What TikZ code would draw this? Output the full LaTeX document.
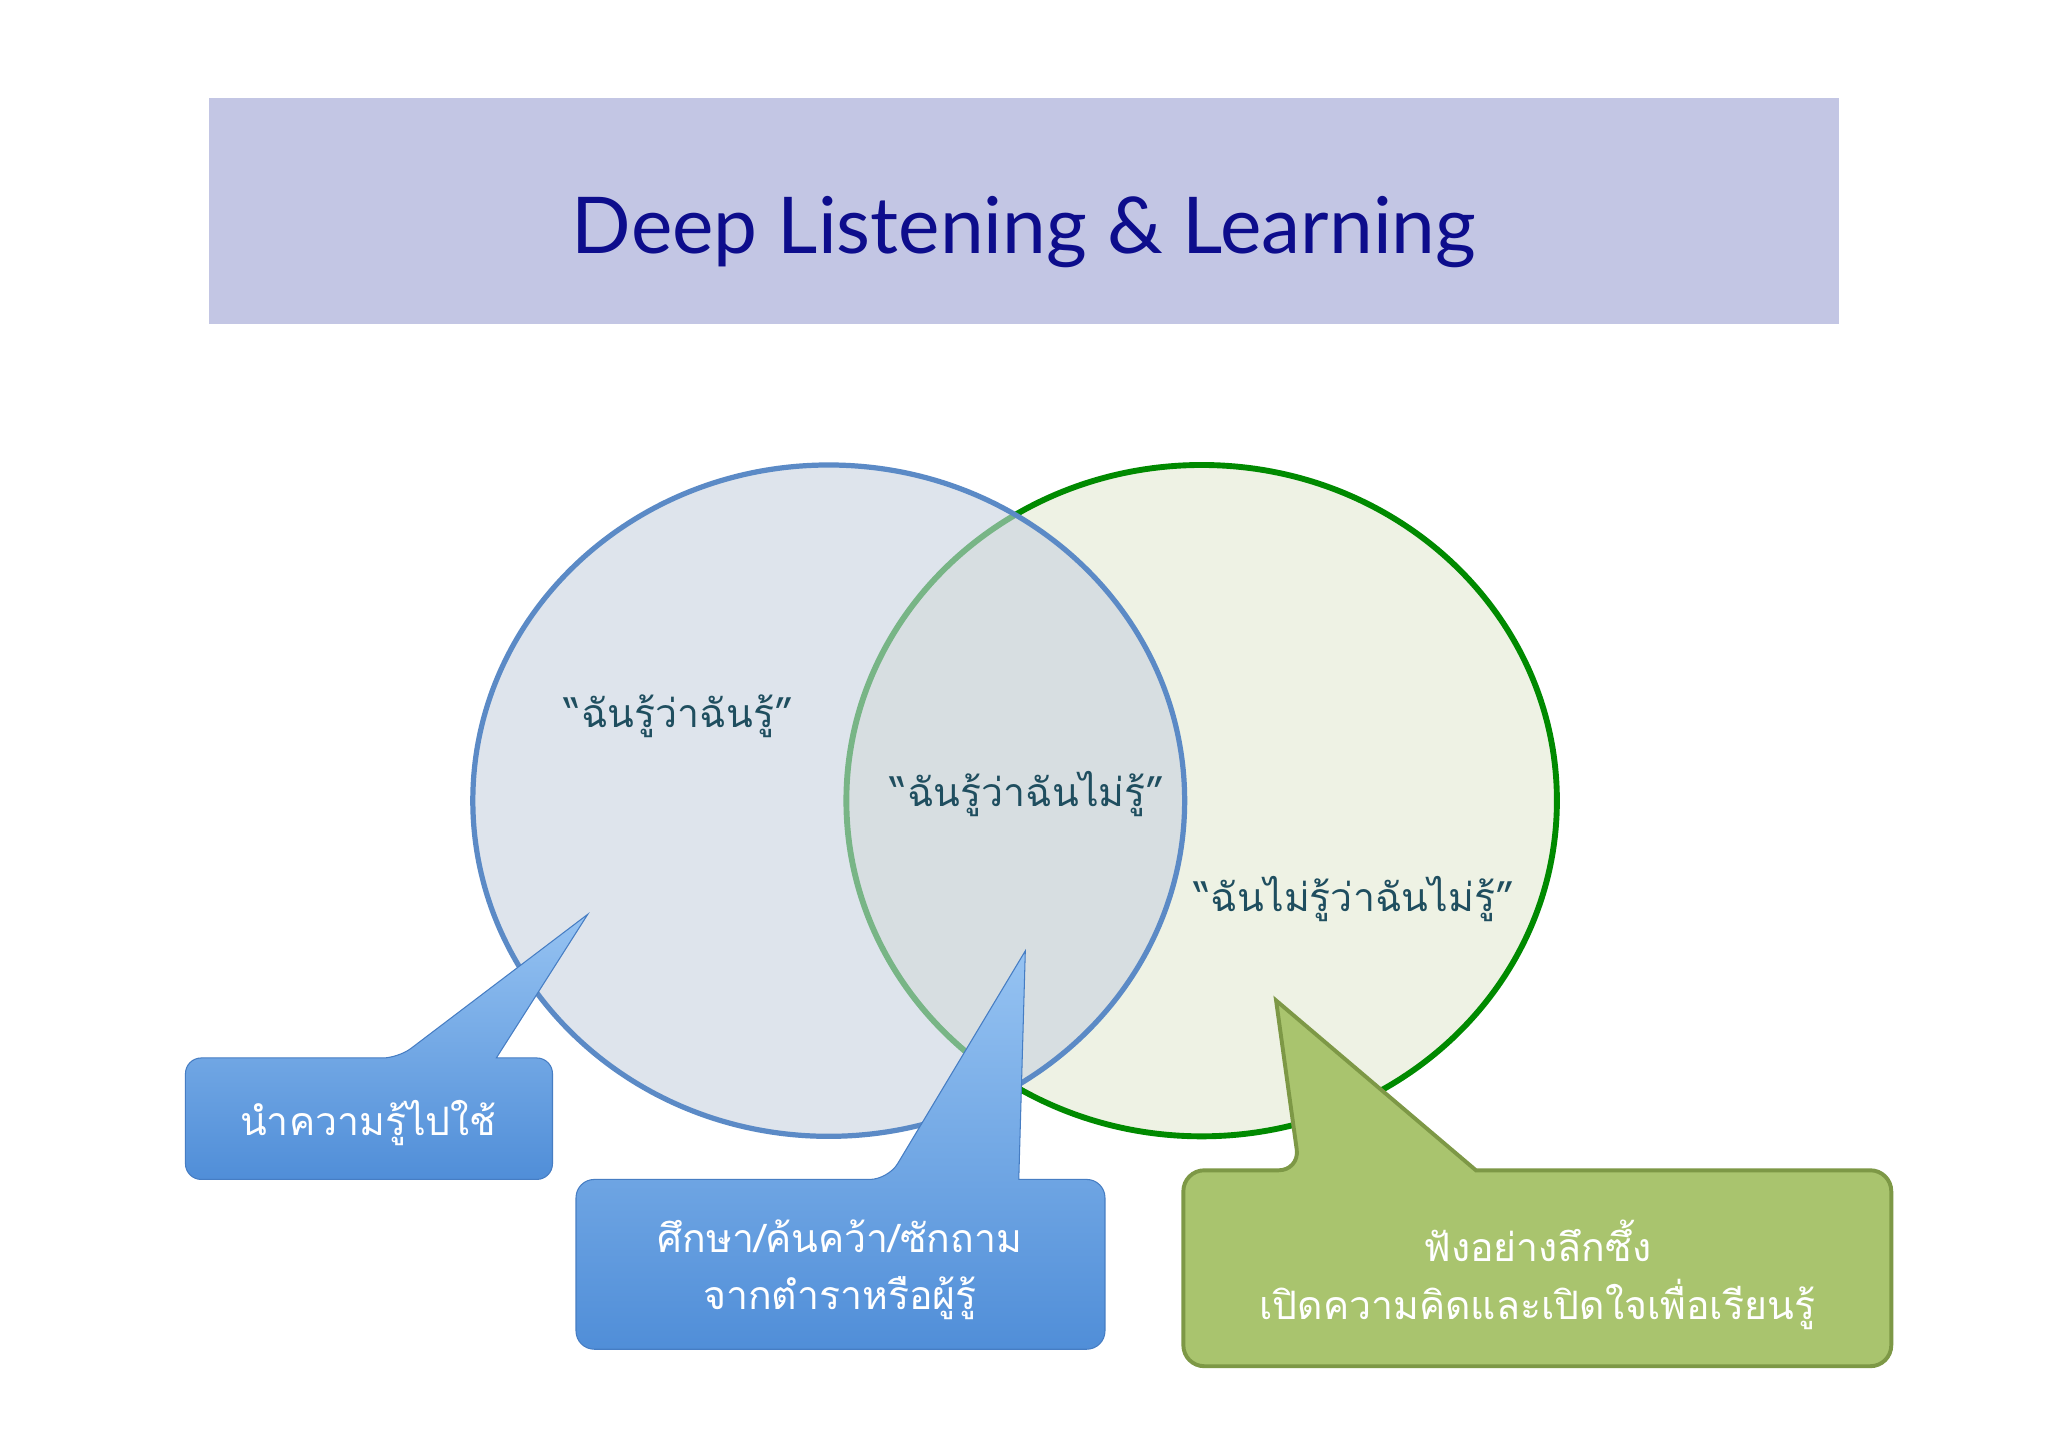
\documentclass[tikz,border=0pt]{standalone}
\usepackage{fontspec}
\setmainfont{Lato}
\newfontfamily\thaifont[Script=Thai]{Loma}
\definecolor{band}{RGB}{195,198,228}
\definecolor{navy}{RGB}{13,13,140}
\definecolor{gfill}{RGB}{238,242,228}
\definecolor{gline}{RGB}{0,138,0}
\definecolor{bfill}{RGB}{200,210,224}
\definecolor{bline}{RGB}{91,138,198}
\definecolor{vtext}{RGB}{31,78,95}
\definecolor{btop}{RGB}{150,195,242}
\definecolor{bbot}{RGB}{80,142,216}
\definecolor{bedge}{RGB}{70,125,195}
\definecolor{cgfill}{RGB}{169,196,110}
\definecolor{cgline}{RGB}{125,152,70}
\begin{document}
\begin{tikzpicture}[x=1pt,y=-1pt,
  thai/.style={font=\thaifont\fontsize{30}{44}\selectfont,align=center},
  venntext/.style={thai,text=vtext},
  bluecall/.style={top color=btop, bottom color=bbot, draw=bedge, line width=0.8pt},
  greencall/.style={fill=cgfill, draw=cgline, line width=3pt}]
\useasboundingbox (0,0) rectangle (1568,1108);
\fill[white] (0,0) rectangle (1568,1108);
% title
\fill[band] (160,75) rectangle (1408,248);
\node[text=navy,font=\fontsize{60}{70}\selectfont] (title) at (784,178) {Deep Listening \& Learning};
% venn
\draw[fill=gfill, draw=gline, line width=4.5pt] (920,613) ellipse (272 and 257);
\fill[bfill, fill opacity=0.6] (634.5,613) ellipse (272.5 and 257);
\draw[bline, line width=4pt] (634.5,613) ellipse (272.5 and 257);
\node[venntext] (t1) at (520,548) {“ฉันรู้ว่าฉันรู้”};
\node[venntext] (t2) at (787,608) {“ฉันรู้ว่าฉันไม่รู้”};
\node[venntext] (t3) at (1037,688) {“ฉันไม่รู้ว่าฉันไม่รู้”};
% callout 1
\path[bluecall] (305,810) [sharp corners] -- (450,700) -- (380,810) [rounded corners=12] -- (423,810) -- (423,903) -- (142,903) -- (142,810) -- cycle;
\node[thai,text=white] (c1) at (282,860) {นำความรู้ไปใช้};
% callout 2
\path[bluecall] (680,903) [sharp corners] -- (785,728) -- (780,903) [rounded corners=14] -- (846,903) -- (846,1033) -- (441,1033) -- (441,903) -- cycle;
\node[thai,text=white] (c2) at (643,972) {ศึกษา/ค้นคว้า/ซักถาม\\จากตำราหรือผู้รู้};
% callout 3
\path[greencall] (995,896) [sharp corners] -- (977,766) -- (1130,896) [rounded corners=16] -- (1448,896) -- (1448,1046) -- (906,1046) -- (906,896) -- cycle;
\node[thai,text=white] (c3) at (1177,976) {ฟังอย่างลึกซึ้ง\\เปิดความคิดและเปิดใจเพื่อเรียนรู้};
\end{tikzpicture}
\end{document}
